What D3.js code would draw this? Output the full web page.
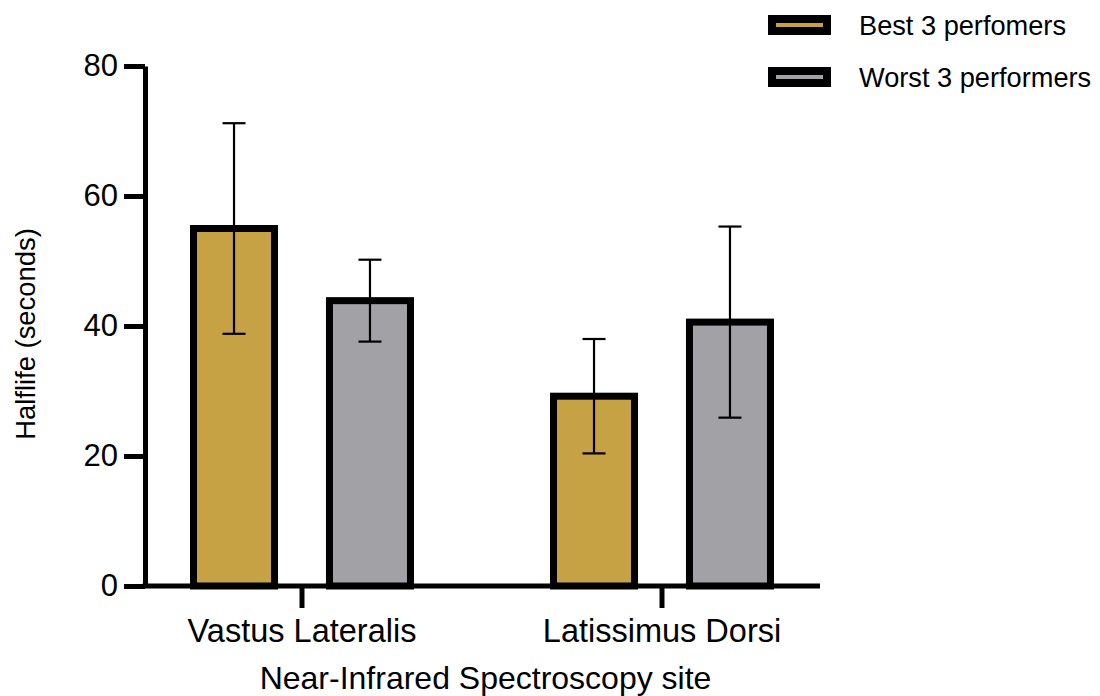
<!DOCTYPE html>
<html>
<head>
<meta charset="utf-8">
<script src="https://cdn.jsdelivr.net/npm/d3@7"></script>
<style>
  html, body { margin: 0; padding: 0; background: #fff; }
  svg { display: block; font-family: "Liberation Sans", Arial, Helvetica, sans-serif; }
</style>
</head>
<body>
<svg id="chart" width="1100" height="696"></svg>
<script>
// Half-life by NIRS site, best vs worst performers (mean ± SD)
const sites = ["Vastus Lateralis", "Latissimus Dorsi"];
const groups = ["Best 3 perfomers", "Worst 3 performers"];
const bestMean = [55.0, 29.2];
const bestErr = [16.2, 8.8];
const worstMean = [43.9, 40.6];
const worstErr = [6.3, 14.7];
const yTicks = [0, 20, 40, 60, 80];
const groupColors = ["#C6A244", "#A2A1A6"];

const rows = sites.map((s, i) => ({
  site: s,
  bars: [
    { group: groups[0], mean: bestMean[i], err: bestErr[i] },
    { group: groups[1], mean: worstMean[i], err: worstErr[i] }
  ]
}));

const svg = d3.select("#chart");

const axisLeftX = 145, axisRightX = 820;
const y = d3.scaleLinear().domain([0, 80]).range([586, 66]);
const x0 = d3.scaleBand().domain(sites).range([122, 842]).paddingInner(0).paddingOuter(0);
const x1 = d3.scaleBand().domain(groups).range([0, x0.bandwidth()])
  .paddingInner(0.404).paddingOuter(0.526);
const color = d3.scaleOrdinal().domain(groups).range(groupColors);

// Bars
const g = svg.append("g");
const siteG = g.selectAll("g.site").data(rows).join("g")
  .attr("class", "site")
  .attr("transform", d => `translate(${x0(d.site)},0)`);

siteG.selectAll("rect").data(d => d.bars).join("rect")
  .attr("x", d => x1(d.group))
  .attr("width", x1.bandwidth())
  .attr("y", d => y(d.mean))
  .attr("height", d => y(0) - y(d.mean))
  .attr("fill", d => color(d.group))
  .attr("stroke", "#000")
  .attr("stroke-width", 7);

// Error bars
const capHalf = 11.5;
const eb = siteG.selectAll("g.err").data(d => d.bars).join("g").attr("class", "err")
  .attr("stroke", "#000").attr("stroke-width", 2.2);
eb.append("line")
  .attr("x1", d => x1(d.group) + x1.bandwidth() / 2)
  .attr("x2", d => x1(d.group) + x1.bandwidth() / 2)
  .attr("y1", d => y(d.mean + d.err))
  .attr("y2", d => y(d.mean - d.err));
eb.append("line")
  .attr("x1", d => x1(d.group) + x1.bandwidth() / 2 - capHalf)
  .attr("x2", d => x1(d.group) + x1.bandwidth() / 2 + capHalf)
  .attr("y1", d => y(d.mean + d.err))
  .attr("y2", d => y(d.mean + d.err));
eb.append("line")
  .attr("x1", d => x1(d.group) + x1.bandwidth() / 2 - capHalf)
  .attr("x2", d => x1(d.group) + x1.bandwidth() / 2 + capHalf)
  .attr("y1", d => y(d.mean - d.err))
  .attr("y2", d => y(d.mean - d.err));

// Y axis
const yAxis = svg.append("g")
  .attr("transform", `translate(${axisLeftX},0)`)
  .call(d3.axisLeft(y).tickValues(yTicks).tickSize(21).tickSizeOuter(0).tickPadding(6));
yAxis.select(".domain").attr("stroke-width", 5).attr("stroke", "#000");
yAxis.selectAll(".tick line").attr("stroke-width", 5).attr("stroke", "#000");
yAxis.selectAll(".tick text").attr("font-size", 31).attr("fill", "#000")
  .attr("font-family", "Liberation Sans, Arial, sans-serif");

// X axis
const xAxis = svg.append("g")
  .attr("transform", `translate(0,${y(0)})`)
  .call(d3.axisBottom(x0).tickSize(22).tickSizeOuter(0).tickPadding(4));
xAxis.select(".domain").remove();
xAxis.append("line")
  .attr("x1", axisLeftX - 2.5).attr("x2", axisRightX)
  .attr("y1", 0).attr("y2", 0)
  .attr("stroke", "#000").attr("stroke-width", 5);
xAxis.selectAll(".tick line").attr("stroke-width", 5).attr("stroke", "#000");
xAxis.selectAll(".tick text").attr("font-size", 32.5).attr("fill", "#000")
  .attr("font-family", "Liberation Sans, Arial, sans-serif")
  .attr("dy", null).attr("y", 56);

// Axis titles
svg.append("text")
  .attr("x", (axisLeftX + axisRightX) / 2 + 3).attr("y", 689)
  .attr("text-anchor", "middle")
  .attr("font-size", 32).attr("fill", "#000")
  .text("Near-Infrared Spectroscopy site");

svg.append("text")
  .attr("transform", "translate(35,334) rotate(-90)")
  .attr("text-anchor", "middle")
  .attr("font-size", 27.4).attr("fill", "#000")
  .text("Halflife (seconds)");

// Legend
const legend = svg.append("g").attr("transform", "translate(768,0)");
const items = legend.selectAll("g").data(groups).join("g")
  .attr("transform", (d, i) => `translate(0,${15 + i * 52})`);
items.append("rect")
  .attr("x", 0).attr("y", 0).attr("width", 63).attr("height", 20)
  .attr("fill", "#000");
items.append("rect")
  .attr("x", 8).attr("y", 8).attr("width", 47).attr("height", 4)
  .attr("fill", d => color(d));
items.append("text")
  .attr("x", 91).attr("y", 20)
  .attr("font-size", 27.2).attr("fill", "#000")
  .text(d => d);
</script>
</body>
</html>
